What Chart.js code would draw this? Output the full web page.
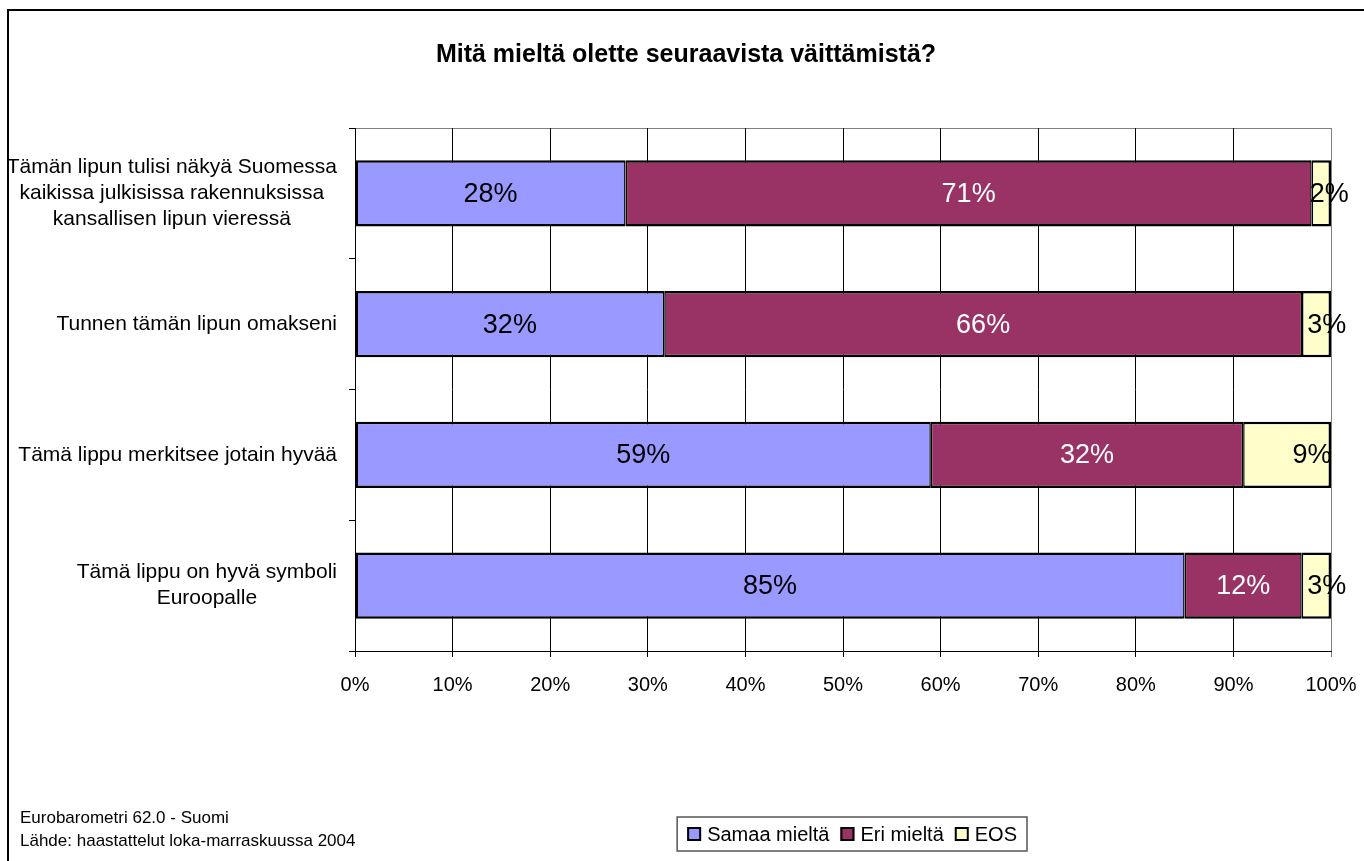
<!DOCTYPE html>
<html>
<head>
<meta charset="utf-8">
<script src="https://cdn.jsdelivr.net/npm/chart.js@4/dist/chart.umd.min.js"></script>
<style>
  html, body { margin: 0; padding: 0; background: #fff; }
  #wrap { width: 1364px; height: 861px; position: relative; }
</style>
</head>
<body>
<div id="wrap"><canvas id="chart"></canvas></div>
<script>
(() => {
    'use strict'

    const TITLE = 'Mitä mieltä olette seuraavista väittämistä?'
    const CATEGORIES = [
        ['Tämän lipun tulisi näkyä Suomessa', 'kaikissa julkisissa rakennuksissa', 'kansallisen lipun vieressä'],
        ['Tunnen tämän lipun omakseni'],
        ['Tämä lippu merkitsee jotain hyvää'],
        ['Tämä lippu on hyvä symboli', 'Euroopalle'],
    ]
    const SERIES_NAMES = ['Samaa mieltä', 'Eri mieltä', 'EOS']
    const SAMAA = [28, 32, 59, 85]
    const ERI = [71, 66, 32, 12]
    const EOS = [2, 3, 9, 3]
    const SOURCE_LINES = ['Eurobarometri 62.0 - Suomi', 'Lähde: haastattelut loka-marraskuussa 2004']

    const COLORS = ['#9999FF', '#993366', '#FFFFCC']
    const LABEL_COLORS = ['#000', '#fff', '#000']
    const FONT = "'Liberation Sans', Arial, sans-serif"

    // 100 % stacked: every row is scaled to its own total
    const series = [SAMAA, ERI, EOS]
    const totals = SAMAA.map((_, i) => series.reduce((s, arr) => s + arr[i], 0))
    const share = (arr) => arr.map((v, i) => v / totals[i] * 100)

    const lastIdx = series.length - 1
    const datasets = series.map((arr, k) => ({
        label: SERIES_NAMES[k],
        data: share(arr),
        rawValues: arr,
        backgroundColor: COLORS[k],
        borderColor: '#000',
        borderWidth: { top: 2.5, bottom: 2.5, left: k === 0 ? 2.5 : 1.5, right: k === lastIdx ? 2.5 : 1.5 },
        borderSkipped: false,
        barPercentage: 0.505,
        categoryPercentage: 1,
    }))

    const decor = {
        id: 'decor',
        beforeDraw(chart) {
            const { ctx, chartArea } = chart
            ctx.save()
            // outer frame
            ctx.strokeStyle = '#000'
            ctx.lineWidth = 2
            ctx.beginPath()
            ctx.moveTo(8, 900)
            ctx.lineTo(8, 10)
            ctx.lineTo(1400, 10)
            ctx.stroke()
            // plot frame top and right
            ctx.strokeStyle = '#808080'
            ctx.lineWidth = 1
            ctx.beginPath()
            ctx.moveTo(chartArea.left, chartArea.top + 0.5)
            ctx.lineTo(chartArea.right + 0.5, chartArea.top + 0.5)
            ctx.lineTo(chartArea.right + 0.5, chartArea.bottom)
            ctx.stroke()
            ctx.restore()
        },
        afterDatasetsDraw(chart) {
            const { ctx } = chart
            ctx.save()
            ctx.font = '27px ' + FONT
            ctx.textAlign = 'center'
            ctx.textBaseline = 'middle'
            chart.data.datasets.forEach((ds, k) => {
                const meta = chart.getDatasetMeta(k)
                meta.data.forEach((bar, i) => {
                    // the last (EOS) labels sit towards the right end of their segment
                    const t = k === lastIdx ? 0.75 : 0.5
                    const cx = bar.base + (bar.x - bar.base) * t + (k === lastIdx ? 3 : 0)
                    ctx.fillStyle = LABEL_COLORS[k]
                    ctx.fillText(ds.rawValues[i] + '%', cx, bar.y + 1)
                })
            })
            ctx.restore()
        },
        afterDraw(chart) {
            const { ctx } = chart
            const yScale = chart.scales.y
            ctx.save()
            ctx.fillStyle = '#000'

            // title
            ctx.font = 'bold 25px ' + FONT
            ctx.textAlign = 'center'
            ctx.textBaseline = 'middle'
            ctx.fillText(TITLE, 686, 55)

            // category labels: block right-aligned, lines centred inside the block
            ctx.font = '21px ' + FONT
            const lineH = 26
            chart.data.labels.forEach((lines, i) => {
                const y = yScale.getPixelForTick(i)
                const w = Math.max(...lines.map(l => ctx.measureText(l).width))
                const cx = 337 - w / 2
                const y0 = y - (lines.length - 1) * lineH / 2
                lines.forEach((l, j) => ctx.fillText(l, cx, y0 + j * lineH))
            })

            // source note
            ctx.font = '17px ' + FONT
            ctx.textAlign = 'left'
            SOURCE_LINES.forEach((l, j) => ctx.fillText(l, 20, 818 + j * 23))

            // legend
            ctx.font = '20px ' + FONT
            const box = 14, gapIn = 6, gapOut = 11, pad = 10
            const items = chart.data.datasets.map(ds => ({ text: ds.label, color: ds.backgroundColor }))
            const widths = items.map(it => box + gapIn + ctx.measureText(it.text).width)
            const inner = widths.reduce((a, b) => a + b, 0) + gapOut * (items.length - 1)
            const right = 1027, top = 817, bottom = 851
            const left = right - inner - pad * 2
            ctx.strokeStyle = '#555'
            ctx.lineWidth = 1.5
            ctx.strokeRect(left, top, right - left, bottom - top)
            let x = left + pad
            const cy = (top + bottom) / 2
            items.forEach((it, j) => {
                ctx.fillStyle = it.color
                ctx.fillRect(x, cy - box / 2, box, box)
                ctx.strokeStyle = '#000'
                ctx.lineWidth = 2
                ctx.strokeRect(x + 1, cy - box / 2 + 1, box - 2, box - 2)
                ctx.fillStyle = '#000'
                ctx.fillText(it.text, x + box + gapIn, cy + 1)
                x += widths[j] + gapOut
            })
            ctx.restore()
        },
    }

    new Chart(document.getElementById('chart'), {
        type: 'bar',
        data: { labels: CATEGORIES, datasets },
        plugins: [decor],
        options: {
            indexAxis: 'y',
            responsive: true,
            maintainAspectRatio: false,
            animation: false,
            layout: { padding: { top: 128, right: 33, bottom: 0, left: 0 } },
            plugins: {
                legend: { display: false },
                title: { display: false },
                tooltip: { enabled: false },
            },
            scales: {
                x: {
                    stacked: true,
                    min: 0,
                    max: 100,
                    ticks: {
                        stepSize: 10,
                        callback: (v) => v + '%',
                        font: { family: FONT, size: 20 },
                        color: '#000',
                        padding: 16,
                        maxRotation: 0,
                    },
                    grid: {
                        color: (c) => (c.tick && c.tick.value === 100) ? '#808080' : '#000',
                        lineWidth: 1,
                        tickLength: 6,
                    },
                    border: { color: '#000', width: 1 },
                    afterFit: (s) => {
                        s.height = 210
                        s.paddingLeft = 0
                        s.paddingRight = 0
                    },
                },
                y: {
                    stacked: true,
                    ticks: { display: false },
                    grid: { drawOnChartArea: false, tickLength: 6, color: '#000', offset: true },
                    border: { color: '#000', width: 1 },
                    afterFit: (s) => { s.width = 355 },
                },
            },
        },
    })
})()
</script>
</body>
</html>
